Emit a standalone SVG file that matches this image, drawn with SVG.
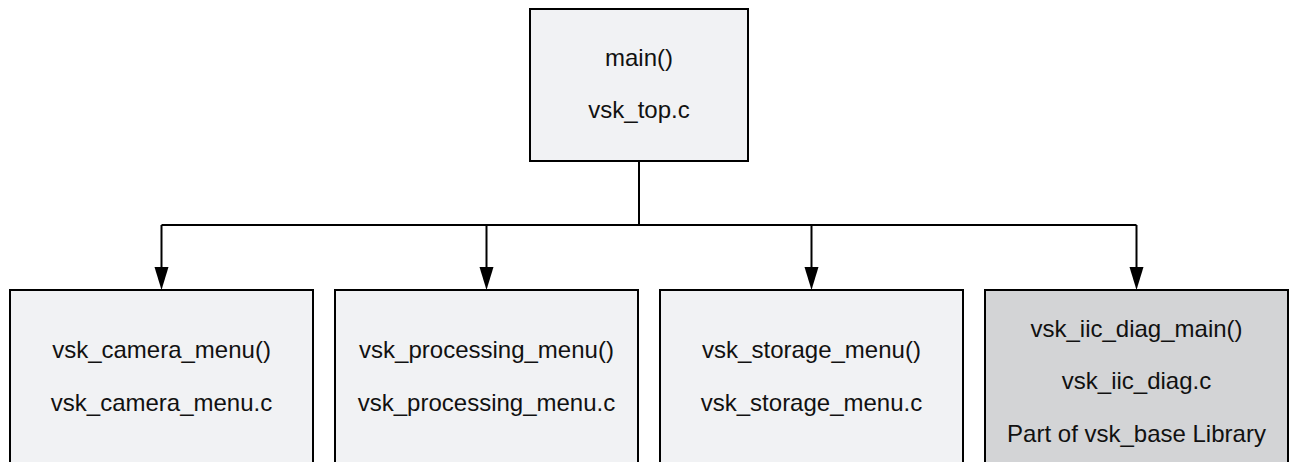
<svg xmlns="http://www.w3.org/2000/svg" width="1290" height="462" viewBox="0 0 1290 462">
<style>
.box{fill:#f1f2f4;stroke:#000;stroke-width:2}
.lib{fill:#d3d4d6;stroke:#000;stroke-width:2}
.t{font-family:"Liberation Sans",Arial,sans-serif;font-size:24px;fill:#111;text-anchor:middle}
.c{fill:none;stroke:#000;stroke-width:2}
.a{fill:none;stroke:#000;stroke-width:2;marker-end:url(#ah)}
</style>
<defs>
<marker id="ah" markerUnits="userSpaceOnUse" markerWidth="16" markerHeight="24" viewBox="0 0 16 24" refX="8" refY="12" orient="auto">
<path d="M0,1 L22,8 L0,15 Z" fill="#000" transform="translate(0,0)"/>
</marker>
</defs>
<rect width="1290" height="462" fill="#fff"/>
<g id="connectors">
<path class="c" d="M639,161 V225"/>
<path class="c" d="M161.5,225 H1136.5"/>
<path d="M161.5,225 V267" class="c"/>
<path d="M486.5,225 V267" class="c"/>
<path d="M811.5,225 V267" class="c"/>
<path d="M1136.5,225 V267" class="c"/>
<path d="M154.5,267 L168.5,267 L161.5,290 Z"/>
<path d="M479.5,267 L493.5,267 L486.5,290 Z"/>
<path d="M804.5,267 L818.5,267 L811.5,290 Z"/>
<path d="M1129.5,267 L1143.5,267 L1136.5,290 Z"/>
</g>
<g id="node-main">
<rect class="box" x="530" y="9" width="218" height="152"/>
<text class="t" x="639" y="66">main()</text>
<text class="t" x="639" y="118">vsk_top.c</text>
</g>
<g id="node-camera">
<rect class="box" x="10" y="290" width="303" height="180"/>
<text class="t" x="161.5" y="358">vsk_camera_menu()</text>
<text class="t" x="161.5" y="411">vsk_camera_menu.c</text>
</g>
<g id="node-processing">
<rect class="box" x="335" y="290" width="303" height="180"/>
<text class="t" x="486.5" y="358">vsk_processing_menu()</text>
<text class="t" x="486.5" y="411">vsk_processing_menu.c</text>
</g>
<g id="node-storage">
<rect class="box" x="660" y="290" width="303" height="180"/>
<text class="t" x="811.5" y="358">vsk_storage_menu()</text>
<text class="t" x="811.5" y="411">vsk_storage_menu.c</text>
</g>
<g id="node-iic">
<rect class="lib" x="985" y="290" width="303" height="180"/>
<text class="t" x="1136.5" y="337">vsk_iic_diag_main()</text>
<text class="t" x="1136.5" y="389">vsk_iic_diag.c</text>
<text class="t" x="1136.5" y="442">Part of vsk_base Library</text>
</g>
</svg>
